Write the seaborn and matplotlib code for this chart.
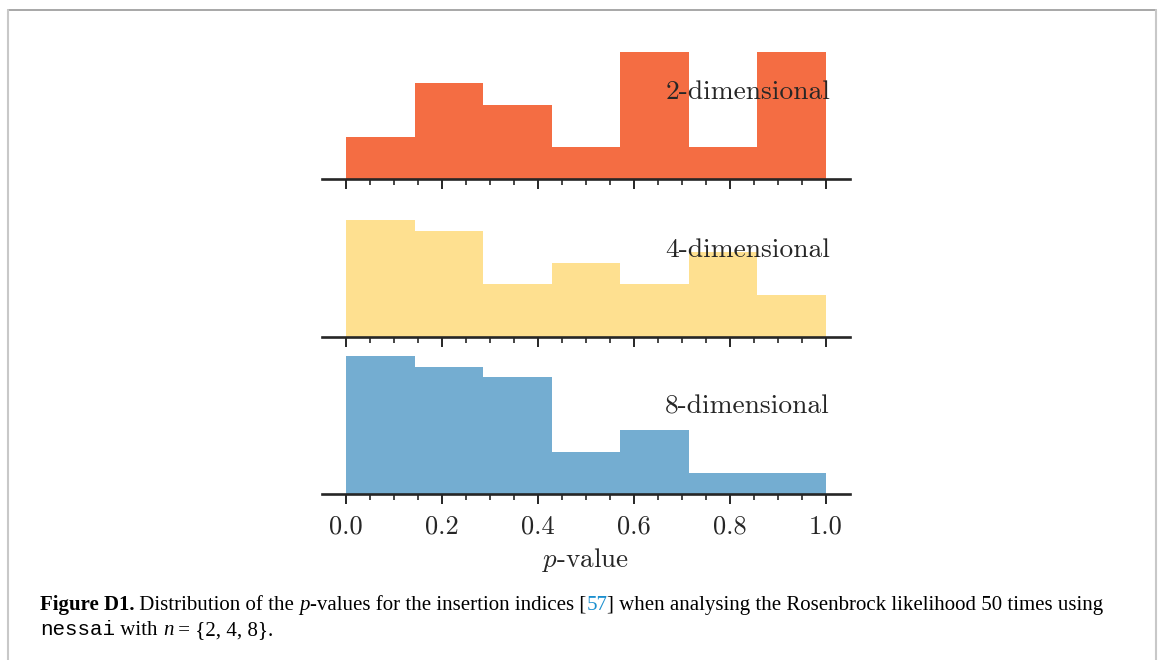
import numpy as np
import pandas as pd
import matplotlib
matplotlib.use("Agg")
import matplotlib.pyplot as plt
import seaborn as sns
from matplotlib.lines import Line2D
from matplotlib.ticker import MultipleLocator, FixedLocator

# ---- data (counts per bin, 50 runs each, 7 bins on [0, 1]) ----
bin_edges = [0.0, 1/7, 2/7, 3/7, 4/7, 5/7, 6/7, 1.0]
counts_2d = [4, 9, 7, 3, 12, 3, 12]
counts_4d = [11, 10, 5, 7, 5, 8, 4]
counts_8d = [13, 12, 11, 4, 6, 2, 2]
labels = ["2-dimensional", "4-dimensional", "8-dimensional"]
colors = ["#f46d43", "#fee090", "#74add1"]
xticks = [0.0, 0.2, 0.4, 0.6, 0.8, 1.0]
minor_ticks = [0.05 * i for i in range(21)]

sns.set_style("ticks")
plt.rcParams["font.family"] = ["cmr10", "DejaVu Serif"]
plt.rcParams["mathtext.fontset"] = "cm"
plt.rcParams["axes.formatter.use_mathtext"] = True
plt.rcParams["axes.unicode_minus"] = False

W, H = 1167, 660
fig = plt.figure(figsize=(W / 100, H / 100), dpi=100)

ax_left, ax_right = 322, 850
ax_h = 138
baselines = [179, 337, 494]
centers = [(bin_edges[i] + bin_edges[i + 1]) / 2 for i in range(7)]
all_counts = [counts_2d, counts_4d, counts_8d]
text_col = "#262626"

for k, (cnts, lab, col, base) in enumerate(zip(all_counts, labels, colors, baselines)):
    ax = fig.add_axes([ax_left / W, 1 - base / H, (ax_right - ax_left) / W, ax_h / H])
    df = pd.DataFrame({"p": centers, "n": cnts})
    sns.histplot(data=df, x="p", weights="n", bins=bin_edges, color=col,
                 alpha=1, linewidth=0, ax=ax, element="bars")
    ax.set_xlim(-0.05, 1.05)
    ax.set_ylim(0, 13)
    ax.set_yticks([])
    ax.set_ylabel("")
    sns.despine(ax=ax, left=True)
    ax.spines["bottom"].set_linewidth(1.9)
    ax.spines["bottom"].set_color(text_col)
    ax.set_xticks(xticks)
    ax.xaxis.set_minor_locator(FixedLocator(minor_ticks))
    ax.tick_params(axis="x", which="major", length=7, width=1.4, color=text_col,
                   labelsize=19, pad=8, labelcolor=text_col)
    ax.tick_params(axis="x", which="minor", length=4, width=1.2, color=text_col)
    ax.text(0.962, 0.63, lab, transform=ax.transAxes, ha="right", va="center",
            fontsize=19.8, color=text_col)
    if k < 2:
        ax.set_xticklabels([])
        ax.set_xlabel("")
    else:
        ax.set_xticklabels([f"{v:.1f}" for v in xticks])
        ax.set_xlabel("$p$-value", fontsize=19.5, color=text_col, labelpad=5)

# ---- page border ----
fig.add_artist(Line2D([8 / W, 1156 / W], [1 - 9.5 / H, 1 - 9.5 / H],
                      transform=fig.transFigure, color="#a0a0a0", lw=1.3))
fig.add_artist(Line2D([7.5 / W, 7.5 / W], [0, 1 - 9.5 / H],
                      transform=fig.transFigure, color="#c8c8c8", lw=1.5))
fig.add_artist(Line2D([1156 / W, 1156 / W], [0, 1 - 9.5 / H],
                      transform=fig.transFigure, color="#c8c8c8", lw=1.5))

# ---- caption ----
fig.canvas.draw()
renderer = fig.canvas.get_renderer()
serif = ["Liberation Serif", "DejaVu Serif"]
mono = ["Liberation Mono", "DejaVu Sans Mono"]
cap_fs = 15.0


def write_line(pieces, x0, y0):
    x = x0
    for txt, kw in pieces:
        t = fig.text(x / W, 1 - y0 / H, txt, fontsize=cap_fs, va="baseline",
                     ha="left", **kw)
        bb = t.get_window_extent(renderer=renderer)
        x += bb.width


line1 = [
    ("Figure D1.", dict(family=serif, weight="bold", color="black")),
    (" Distribution of the ", dict(family=serif, color="black")),
    ("p", dict(family=serif, style="italic", color="black")),
    ("-values for the insertion indices [", dict(family=serif, color="black")),
    ("57", dict(family=serif, color="#1b8fcf")),
    ("] when analysing the Rosenbrock likelihood 50 times using", dict(family=serif, color="black")),
]
line2 = [
    ("nessai", dict(family=mono, color="black")),
    (" with ", dict(family=serif, color="black")),
    ("n", dict(family=serif, style="italic", color="black")),
    (" = {2, 4, 8}.", dict(family=serif, color="black")),
]
write_line(line1, 40, 610)
write_line(line2, 40, 635)

fig.savefig("out.png", dpi=100)
